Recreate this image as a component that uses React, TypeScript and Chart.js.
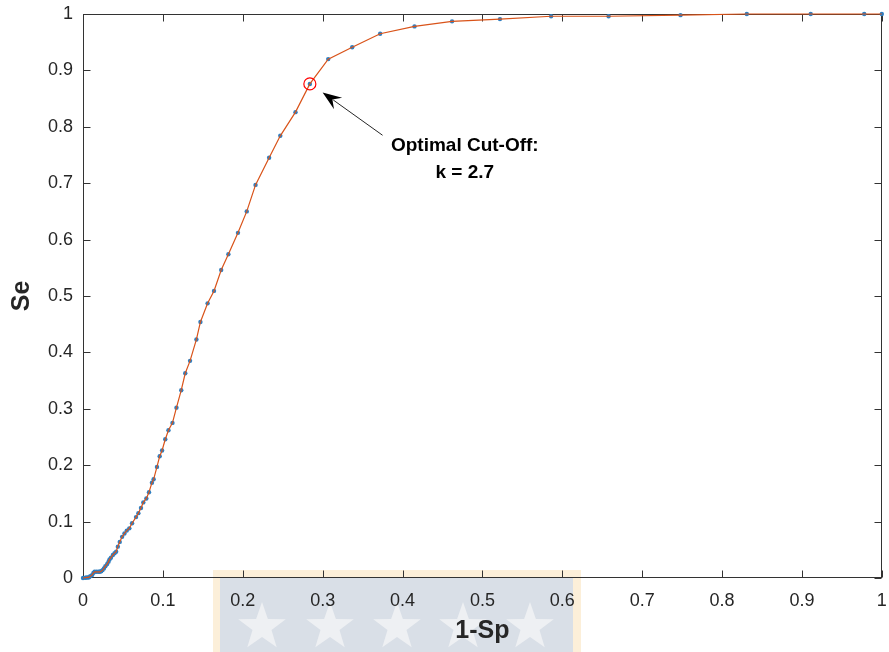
import { useEffect, useRef } from "react";
import { Chart, registerables } from "chart.js";

Chart.register(...registerables);

// 1-Sp (false positive rate) and Se (sensitivity)
const fprValues = [
  0, 0.003, 0.005, 0.007, 0.009, 0.0112, 0.013, 0.0145, 0.017, 0.0195, 0.021,
  0.0228, 0.0245, 0.0262, 0.028, 0.0303, 0.032, 0.0332, 0.035, 0.0374, 0.0395,
  0.0415, 0.0436, 0.046, 0.049, 0.0519, 0.0548, 0.058, 0.0614, 0.0664, 0.0693,
  0.0726, 0.0755, 0.0793, 0.0826, 0.0863, 0.0884, 0.0926, 0.096, 0.099, 0.103,
  0.107, 0.112, 0.117, 0.123, 0.128, 0.134, 0.142, 0.147, 0.156, 0.164, 0.173,
  0.182, 0.194, 0.205, 0.216, 0.233, 0.247, 0.266, 0.284, 0.307, 0.337, 0.372,
  0.415, 0.462, 0.522, 0.586, 0.658, 0.748, 0.831, 0.911, 0.978, 1,
];
const seValues = [
  0, 0.0005, 0.001, 0.001, 0.003, 0.005, 0.009, 0.011, 0.011, 0.011, 0.011,
  0.012, 0.014, 0.017, 0.021, 0.0248, 0.029, 0.033, 0.036, 0.0408, 0.044,
  0.0467, 0.0556, 0.064, 0.073, 0.079, 0.084, 0.088, 0.097, 0.108, 0.115,
  0.124, 0.134, 0.141, 0.152, 0.169, 0.175, 0.197, 0.216, 0.226, 0.246,
  0.262, 0.275, 0.302, 0.333, 0.363, 0.385, 0.423, 0.454, 0.487, 0.509, 0.546,
  0.574, 0.612, 0.65, 0.697, 0.745, 0.784, 0.826, 0.876, 0.92, 0.941, 0.965,
  0.978, 0.987, 0.991, 0.996, 0.996, 0.998, 1, 1, 1, 1,
];

const xTickLabels = ["0", "0.1", "0.2", "0.3", "0.4", "0.5", "0.6", "0.7", "0.8", "0.9", "1"];
const yTickLabels = ["0", "0.1", "0.2", "0.3", "0.4", "0.5", "0.6", "0.7", "0.8", "0.9", "1"];

const optimalPoint = [{ x: 0.284, y: 0.876 }];
const annotationLines = ["Optimal Cut-Off:", "k = 2.7"];
// annotation anchors in data units
const annotationTextX = 0.478;
const annotationTextY = [0.766, 0.718];
const arrowTail = { x: 0.375, y: 0.785 };
const arrowHead = { x: 0.3, y: 0.861 };

const xTitle = "1-Sp";
const yTitle = "Se";

const FONT = "'Liberation Sans', Arial, Helvetica, sans-serif";

const watermarkPlugin = {
  id: "watermark",
  beforeDraw(chart: any) {
    const ctx = chart.ctx;
    ctx.save();
    ctx.fillStyle = "#fcefd9";
    ctx.fillRect(213, 570, 368, 82);
    ctx.fillStyle = "#d9dfe7";
    ctx.fillRect(220, 578, 353, 74);
    ctx.fillStyle = "#eef0f3";
    const centers = [262, 330, 397, 463, 530];
    centers.forEach((cx) => {
      const cy = 627;
      const R = 25;
      const r = 10;
      ctx.beginPath();
      for (let i = 0; i < 10; i++) {
        const ang = -Math.PI / 2 + (i * Math.PI) / 5;
        const rad = i % 2 === 0 ? R : r;
        const px = cx + rad * Math.cos(ang);
        const py = cy + rad * Math.sin(ang);
        if (i === 0) ctx.moveTo(px, py);
        else ctx.lineTo(px, py);
      }
      ctx.closePath();
      ctx.fill();
    });
    ctx.restore();
  },
};

const boxPlugin = {
  id: "matlabBox",
  beforeDatasetsDraw(chart: any) {
    const { ctx, chartArea } = chart;
    const xs = chart.scales.x;
    const ys = chart.scales.y;
    const l = Math.round(chartArea.left) + 0.5;
    const r = Math.round(chartArea.right) - 0.5;
    const t = Math.round(chartArea.top) + 0.5;
    const b = Math.round(chartArea.bottom) - 0.5;
    ctx.save();
    ctx.strokeStyle = "#333333";
    ctx.lineWidth = 1;
    ctx.strokeRect(l, t, r - l, b - t);
    const len = 7;
    ctx.beginPath();
    xs.ticks.forEach((tk: any) => {
      const px = Math.round(xs.getPixelForValue(tk.value)) + 0.5;
      ctx.moveTo(px, b);
      ctx.lineTo(px, b - len);
      ctx.moveTo(px, t);
      ctx.lineTo(px, t + len);
    });
    ys.ticks.forEach((tk: any) => {
      const py = Math.round(ys.getPixelForValue(tk.value)) + 0.5;
      ctx.moveTo(l, py);
      ctx.lineTo(l + len, py);
      ctx.moveTo(r, py);
      ctx.lineTo(r - len, py);
    });
    ctx.stroke();
    ctx.restore();
  },
};

const annotationPlugin = {
  id: "cutoffAnnotation",
  afterDatasetsDraw(chart: any) {
    const { ctx } = chart;
    const xs = chart.scales.x;
    const ys = chart.scales.y;
    ctx.save();
    const x1 = xs.getPixelForValue(arrowTail.x);
    const y1 = ys.getPixelForValue(arrowTail.y);
    const x2 = xs.getPixelForValue(arrowHead.x);
    const y2 = ys.getPixelForValue(arrowHead.y);
    const ang = Math.atan2(y2 - y1, x2 - x1);
    const headLen = 17;
    const headW = 7;
    const bx = x2 - headLen * Math.cos(ang);
    const by = y2 - headLen * Math.sin(ang);
    ctx.strokeStyle = "#262626";
    ctx.lineWidth = 1;
    ctx.beginPath();
    ctx.moveTo(x1, y1);
    ctx.lineTo(bx + 4 * Math.cos(ang), by + 4 * Math.sin(ang));
    ctx.stroke();
    ctx.fillStyle = "#000000";
    ctx.beginPath();
    ctx.moveTo(x2, y2);
    ctx.lineTo(bx - headW * Math.sin(ang) - 2 * Math.cos(ang), by + headW * Math.cos(ang) - 2 * Math.sin(ang));
    ctx.lineTo(bx + 5 * Math.cos(ang), by + 5 * Math.sin(ang));
    ctx.lineTo(bx + headW * Math.sin(ang) - 2 * Math.cos(ang), by - headW * Math.cos(ang) - 2 * Math.sin(ang));
    ctx.closePath();
    ctx.fill();
    ctx.fillStyle = "#000000";
    ctx.font = `bold 19px ${FONT}`;
    ctx.textAlign = "center";
    ctx.textBaseline = "middle";
    const tx = xs.getPixelForValue(annotationTextX);
    annotationLines.forEach((line, i) => {
      ctx.fillText(line, tx, ys.getPixelForValue(annotationTextY[i]));
    });
    ctx.restore();
  },
};

export default function App() {
  const canvasRef = useRef<HTMLCanvasElement | null>(null);

  useEffect(() => {
    if (!canvasRef.current) return;
    const points = fprValues.map((x, i) => ({ x, y: seValues[i] }));
    const chart = new Chart(canvasRef.current, {
      type: "scatter",
      data: {
        datasets: [
          {
            label: "ROC line",
            data: points,
            showLine: true,
            borderColor: "#D95319",
            borderWidth: 1.2,
            pointRadius: 0,
            fill: false,
            clip: false as any,
            order: 1,
          },
          {
            label: "ROC points",
            data: points,
            showLine: false,
            pointRadius: 2.2,
            pointBorderWidth: 0,
            pointBackgroundColor: "#2f7fc1",
            clip: false as any,
            order: 2,
          },
          {
            label: "Optimal",
            data: optimalPoint,
            showLine: false,
            pointRadius: 6,
            pointBorderWidth: 1.2,
            pointBorderColor: "#FF0000",
            pointBackgroundColor: "rgba(0,0,0,0)",
            clip: false as any,
            order: 0,
          },
        ],
      },
      options: {
        animation: false,
        responsive: true,
        maintainAspectRatio: false,
        layout: { padding: { left: 0, top: 14, right: 1, bottom: 0 } },
        plugins: {
          legend: { display: false },
          tooltip: { enabled: false },
        },
        scales: {
          x: {
            type: "linear",
            min: 0,
            max: 1,
            grid: { display: false, drawTicks: false },
            border: { display: false },
            ticks: {
              stepSize: 0.1,
              autoSkip: false,
              maxRotation: 0,
              padding: 12,
              color: "#262626",
              font: { family: FONT, size: 18 },
              callback: (_v: any, i: number) => xTickLabels[i],
            },
            title: {
              display: true,
              text: xTitle,
              color: "#262626",
              font: { family: FONT, size: 25, weight: "bold" },
              padding: { top: 0, bottom: 6 },
            },
            afterFit: (scale: any) => {
              scale.height = 74;
              scale.paddingLeft = 0;
              scale.paddingRight = 0;
            },
          },
          y: {
            type: "linear",
            min: 0,
            max: 1,
            grid: { display: false, drawTicks: false },
            border: { display: false },
            ticks: {
              stepSize: 0.1,
              autoSkip: false,
              padding: 10,
              color: "#262626",
              font: { family: FONT, size: 18 },
              callback: (_v: any, i: number) => yTickLabels[i],
            },
            title: {
              display: true,
              text: yTitle,
              color: "#262626",
              font: { family: FONT, size: 25, weight: "bold" },
              padding: { top: 7, bottom: 0 },
            },
            afterFit: (scale: any) => {
              scale.width = 83;
              scale.paddingTop = 0;
              scale.paddingBottom = 0;
            },
          },
        },
      },
      plugins: [watermarkPlugin, boxPlugin, annotationPlugin],
    });
    return () => chart.destroy();
  }, []);

  return (
    <div style={{ position: "fixed", left: 0, top: 0, width: 889, height: 652, background: "#ffffff" }}>
      <canvas ref={canvasRef} />
    </div>
  );
}
